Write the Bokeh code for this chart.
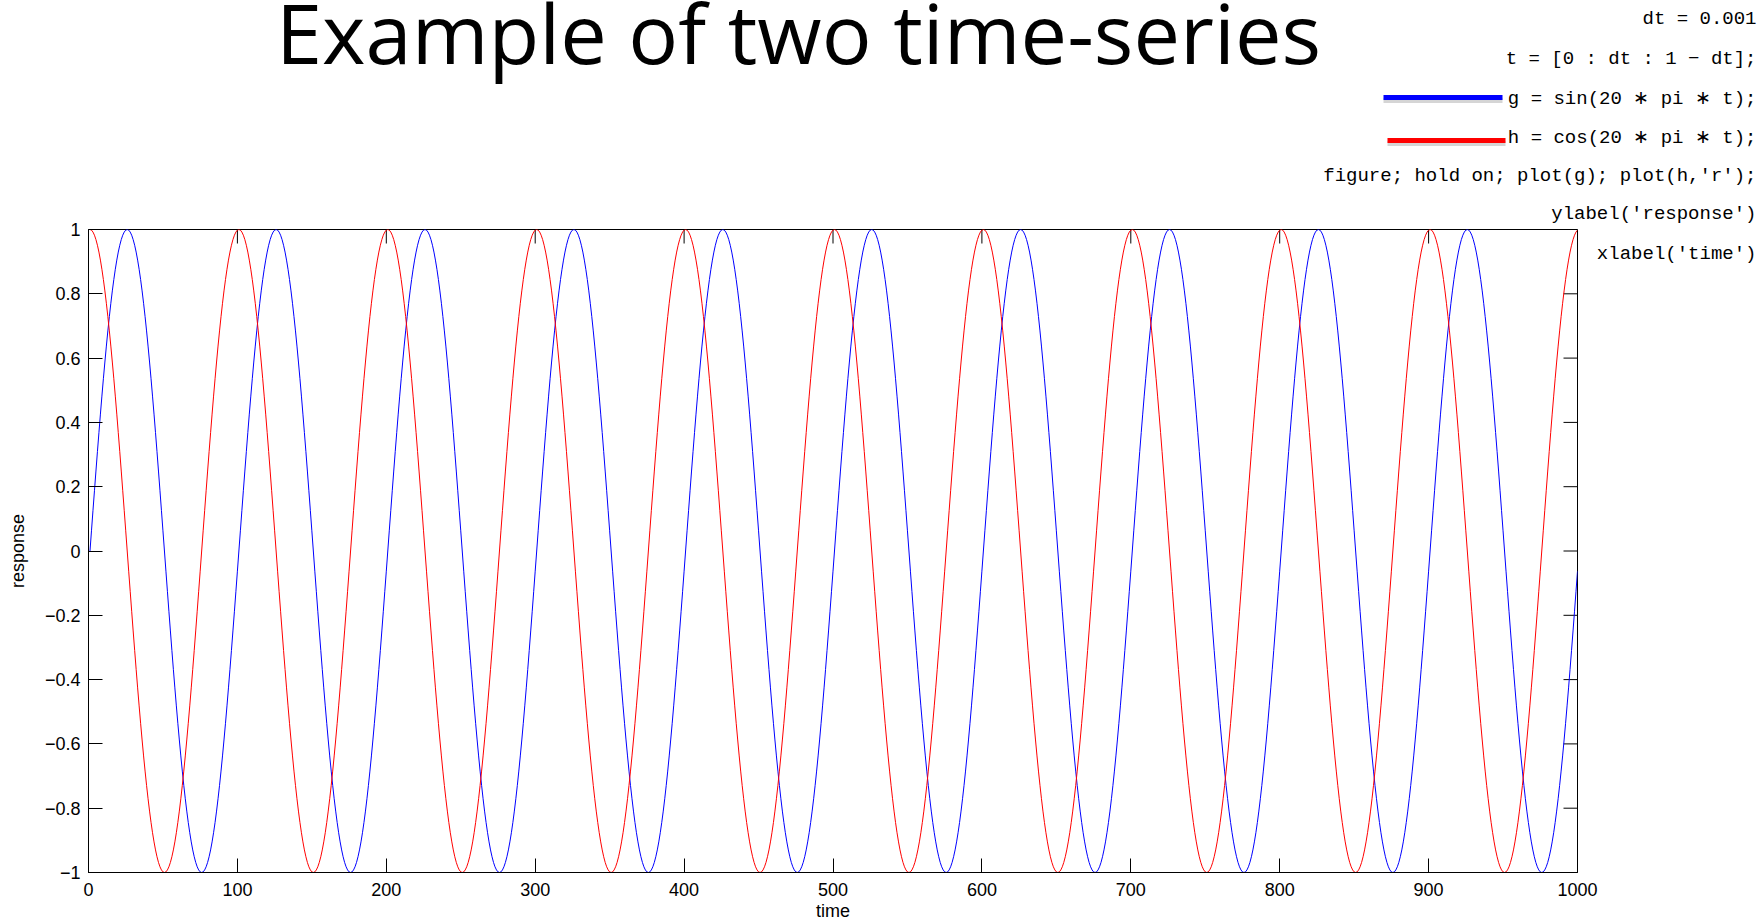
import numpy as np
from bokeh.plotting import figure
from bokeh.layouts import column, row
from bokeh.models import Range1d, FixedTicker, Label, CustomJSTickFormatter, Arrow
from bokeh.embed import file_html
from bokeh.resources import INLINE

# ---- data (the chart states its own code: t = [0:dt:1-dt]; g = sin(20*pi*t); h = cos(20*pi*t)) ----
title_text = "Example of two time-series"
x_label = "time"
y_label = "response"
dt = 0.001
omega_factor = 20
x_ticks = [0, 100, 200, 300, 400, 500, 600, 700, 800, 900, 1000]
y_ticks = [-1, -0.8, -0.6, -0.4, -0.2, 0, 0.2, 0.4, 0.6, 0.8, 1]
code_lines = [
    "dt = 0.001",
    "t = [0 : dt : 1 \u2212 dt];",
    "g = sin(20 \u2217 pi \u2217 t);",
    "h = cos(20 \u2217 pi \u2217 t);",
    "figure; hold on; plot(g); plot(h,\u2032r\u2032);",
    "ylabel(\u2032response\u2032)",
    "xlabel(\u2032time\u2032)",
]
series_colors = ["#0000FF", "#FF0000"]

t = np.arange(0, 1 - dt / 2, dt)
sample_index = np.arange(1, len(t) + 1)
g = np.sin(omega_factor * np.pi * t)
h = np.cos(omega_factor * np.pi * t)

# ---- layout (page pixels) ----
W, H = 1758, 924
FL, FR, FT, FB = 88, 1577, 229, 872   # plot box on the page
X0, X1, Y0, Y1 = 0, 1000, -1, 1
TICK = 14

# ---------- main plot ----------
p = figure(width=W, height=H, output_backend="svg", toolbar_location=None,
           x_range=Range1d(X0, X1), y_range=Range1d(Y0, Y1),
           min_border_left=FL, min_border_right=W - FR,
           min_border_top=FT, min_border_bottom=H - FB,
           background_fill_color="white", border_fill_color="white")
p.grid.visible = False
p.outline_line_color = "black"
p.outline_line_alpha = 1.0
p.outline_line_width = 1

yfmt = CustomJSTickFormatter(code="""
const v = Math.round(tick * 10) / 10;
const s = Math.abs(v).toString();
return v < 0 ? "\u2212" + s : s;
""")


def style(ax, ticks):
    ax.ticker = FixedTicker(ticks=ticks)
    ax.major_tick_in = TICK
    ax.major_tick_out = 0
    ax.minor_tick_in = 0
    ax.minor_tick_out = 0
    ax.axis_line_color = "black"
    ax.axis_line_width = 1
    ax.major_tick_line_color = "black"
    ax.major_tick_line_width = 1
    ax.major_label_text_font = "Liberation Sans"
    ax.major_label_text_font_size = "18px"
    ax.major_label_text_color = "black"
    ax.axis_label_text_font = "Liberation Sans"
    ax.axis_label_text_font_size = "18px"
    ax.axis_label_text_font_style = "normal"
    ax.axis_label_text_color = "black"


style(p.xaxis[0], x_ticks)
p.xaxis[0].axis_label = x_label
p.xaxis[0].major_label_standoff = 10
p.xaxis[0].axis_label_standoff = 2

style(p.yaxis[0], y_ticks)
p.yaxis[0].formatter = yfmt
p.yaxis[0].axis_label = y_label
p.yaxis[0].major_label_standoff = 8
p.yaxis[0].axis_label_standoff = 14

# inward ticks on the top and right edges of the box (MATLAB "box on")
ty = TICK * (Y1 - Y0) / (FB - FT)
tx = TICK * (X1 - X0) / (FR - FL)
p.segment(x0=x_ticks, y0=[Y1] * len(x_ticks), x1=x_ticks, y1=[Y1 - ty] * len(x_ticks),
          line_color="black", line_width=1)
p.segment(x0=[X1] * len(y_ticks), y0=y_ticks, x1=[X1 - tx] * len(y_ticks), y1=y_ticks,
          line_color="black", line_width=1)

for ys, col in zip([g, h], series_colors):
    p.line(sample_index, ys, line_color=col, line_width=1)

# ---------- transparent overlay in page pixels: title, code, legend swatches ----------
ov = figure(width=W, height=H, output_backend="svg", toolbar_location=None,
            x_range=Range1d(0, W), y_range=Range1d(H, 0),
            x_axis_location=None, y_axis_location=None, min_border=0,
            background_fill_color=None, border_fill_color=None)
ov.grid.visible = False
ov.outline_line_color = None

ov.add_layout(Label(x=798, y=31, text=title_text,
                    text_align="center", text_baseline="alphabetic",
                    text_font="Open Sans", text_font_size="83px", text_color="black"))

line_centres = [18, 58, 98, 137, 175, 213, 253]
for txt, yc in zip(code_lines, line_centres):
    ov.add_layout(Label(x=1756, y=yc, text=txt,
                        text_align="right", text_baseline="middle",
                        text_font="Liberation Mono", text_font_size="19px", text_color="black"))

swatches = [(1383, 1502, 97), (1387, 1505, 140)]
for (xa, xb, yy), col in zip(swatches, series_colors):
    ov.add_layout(Arrow(end=None, start=None, x_start=xa, x_end=xb,
                        y_start=yy + 3, y_end=yy + 3,
                        line_color="#888888", line_alpha=0.35, line_width=5))
    ov.add_layout(Arrow(end=None, start=None, x_start=xa, x_end=xb,
                        y_start=yy, y_end=yy,
                        line_color=col, line_width=5))

layout = column(row(p), row(ov, margin=(-H, 0, 0, 0)), spacing=0)
open("out.html", "w").write(file_html(layout, INLINE))
